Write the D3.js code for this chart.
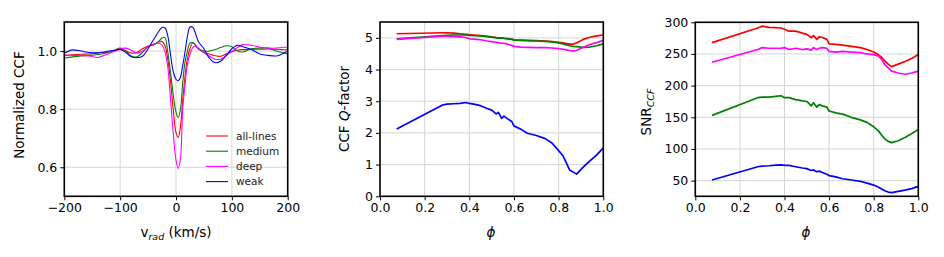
<!DOCTYPE html>
<html>
<head>
<meta charset="utf-8">
<script src="https://cdn.jsdelivr.net/npm/d3@7"></script>
<style>
  body { margin: 0; background: #fff; }
  svg { font-family: "DejaVu Sans", sans-serif; }
</style>
</head>
<body>
<svg id="fig" width="944" height="257"></svg>
<script>

//////////////////// DATA ////////////////////

// panel 1: normalized CCF profiles
var vrad = [-200,-185,-170,-155,-140,-125,-110,-100,-90,-80,-70,-60,-50,-40,-30,-25,-20,-15,-10,-5,0,4,8,12,16,20,25,30,35,40,50,60,70,80,90,100,110,120,135,150,165,180,190,200];

var ccfAll = [0.984,0.987,0.989,0.99,0.993,0.996,1.0,1.005,1.0,0.993,0.995,1.008,1.017,1.022,1.032,1.033,1.02,0.975,0.90,0.80,0.72,0.703,0.74,0.83,0.91,0.97,1.008,1.028,1.02,1.008,0.995,0.99,0.984,0.982,0.99,0.998,1.003,1.005,1.006,1.006,1.007,1.006,1.005,1.004];
var ccfMedium = [0.976,0.98,0.983,0.985,0.988,0.993,1.003,1.01,1.0,0.983,0.98,0.995,1.015,1.022,1.035,1.045,1.047,1.0,0.93,0.85,0.79,0.771,0.80,0.89,0.96,0.995,1.027,1.03,1.02,1.008,1.0,1.0,1.005,1.012,1.018,1.015,1.0,0.997,1.008,1.01,1.01,1.0,0.995,0.99];
var ccfDeep = [0.987,0.985,0.985,0.983,0.978,0.988,1.0,1.008,1.01,1.003,0.993,1.0,1.015,1.024,1.027,1.02,1.0,0.95,0.84,0.72,0.625,0.596,0.63,0.80,0.88,0.95,0.99,1.012,1.017,1.01,0.995,0.982,0.972,0.972,0.985,0.998,1.012,1.022,1.02,1.013,1.01,1.01,1.013,1.013];
var ccfWeak = [0.993,1.004,1.0,0.995,0.994,0.998,1.003,1.006,0.995,0.98,0.977,0.982,1.008,1.04,1.07,1.081,1.08,1.055,0.99,0.93,0.903,0.898,0.91,0.95,0.995,1.045,1.083,1.082,1.06,1.033,1.008,0.975,0.96,0.965,0.985,1.008,1.02,1.015,1.005,0.99,0.985,0.983,0.99,1.0];

// panels 2 and 3: phase grid
var phase = [0.075,0.28,0.30,0.33,0.36,0.385,0.40,0.42,0.45,0.48,0.50,0.52,0.53,0.545,0.555,0.57,0.59,0.60,0.63,0.66,0.70,0.74,0.77,0.80,0.82,0.835,0.85,0.865,0.88,0.91,0.94,0.97,1.0];

// CCF Q-factor
var qAll = [5.13,5.16,5.16,5.15,5.13,5.11,5.10,5.09,5.07,5.05,5.03,5.01,5.0,5.0,4.99,4.98,4.96,4.94,4.93,4.92,4.91,4.9,4.88,4.86,4.84,4.82,4.8,4.8,4.84,4.95,5.02,5.06,5.09];
var qMedium = [4.97,5.07,5.08,5.09,5.09,5.09,5.08,5.07,5.06,5.04,5.02,5.0,4.99,5.0,4.98,4.97,4.95,4.93,4.92,4.91,4.9,4.89,4.87,4.84,4.81,4.78,4.75,4.73,4.72,4.7,4.71,4.75,4.81];
var qDeep = [4.95,5.05,5.05,5.04,5.03,5.01,4.97,4.96,4.94,4.9,4.88,4.86,4.85,4.83,4.83,4.8,4.76,4.73,4.71,4.7,4.69,4.69,4.68,4.66,4.64,4.62,4.6,4.59,4.6,4.7,4.79,4.85,4.92];
var qWeak = [2.12,2.88,2.91,2.92,2.93,2.96,2.93,2.91,2.86,2.77,2.72,2.60,2.65,2.46,2.53,2.45,2.36,2.22,2.12,1.99,1.92,1.82,1.68,1.44,1.27,1.05,0.82,0.77,0.70,0.92,1.12,1.3,1.53];

// SNR of the CCF
var snrAll = [268,291,294,292,291.5,291,289,286,286,283,281,276,279,273,277,276,273,266,265,264,262,260,257,253,249,245,239,234,230,234,238,243,249];
var snrMedium = [153,181,182,182,183,184,181,181,178,176,175,168,173,166,170,168,166,160,157,155,150,146,142,135,129,122,116,112,110,113,118,124,131];
var snrDeep = [237,257,260,259,259,259,260,257,259,257,258,256,260,257,259,260,259,254,253,254,253,252,250,249,247,242,233,228,223,220,218,220,223];
var snrWeak = [51,72,73,73.5,74.5,75,74,74,72,70,69,66,67,64,65,63,60,58,56,53,51,49,46,43,40,37,34,32,31,33,35,37.5,41];

var seriesNames = ["all-lines", "medium", "deep", "weak"];
var seriesColors = ["#ff0000", "#008000", "#ff00ff", "#0000ff"];

var phiTicks = [0, 0.2, 0.4, 0.6, 0.8, 1.0];

//////////////////// FIGURE ////////////////////

var svg = d3.select("#fig");
var minus = s => s.replace("-", "\u2212");

function makePanel(opt) {

    var x = d3.scaleLinear().domain(opt.xDomain).range([opt.left, opt.right]);
    var y = d3.scaleLinear().domain(opt.yDomain).range([opt.bottom, opt.top]);

    var g = svg.append("g").attr("class", opt.id);

    //grid
    g.append("g").selectAll("line")
        .data(opt.xTicks)
        .enter()
        .append("line")
            .attr("x1", d => x(d)).attr("x2", d => x(d))
            .attr("y1", opt.top).attr("y2", opt.bottom)
            .style("stroke", "#d4d4d4").style("stroke-width", 1);

    g.append("g").selectAll("line")
        .data(opt.yTicks)
        .enter()
        .append("line")
            .attr("x1", opt.left).attr("x2", opt.right)
            .attr("y1", d => y(d)).attr("y2", d => y(d))
            .style("stroke", "#d4d4d4").style("stroke-width", 1);

    //clip
    g.append("clipPath").attr("id", "clip-" + opt.id)
        .append("rect")
            .attr("x", opt.left).attr("y", opt.top)
            .attr("width", opt.right - opt.left).attr("height", opt.bottom - opt.top);

    var line = d3.line()
        .x(d => x(d[0]))
        .y(d => y(d[1]))
        .curve(opt.curve);

    g.append("g").attr("clip-path", "url(#clip-" + opt.id + ")")
        .selectAll("path")
        .data(opt.series)
        .enter()
        .append("path")
            .attr("d", (d, i) => line(d3.zip(opt.xs, d)))
            .attr("fill", "none")
            .attr("stroke", (d, i) => seriesColors[i])
            .attr("stroke-width", opt.lw)
            .attr("stroke-linejoin", "round");

    //axes
    var xAxis = g.append("g")
        .attr("transform", "translate(0," + opt.bottom + ")")
        .call(d3.axisBottom(x).tickValues(opt.xTicks).tickFormat(opt.xFormat).tickSizeOuter(0).tickSize(4).tickPadding(3));

    var yAxis = g.append("g")
        .attr("transform", "translate(" + opt.left + ",0)")
        .call(d3.axisLeft(y).tickValues(opt.yTicks).tickFormat(opt.yFormat).tickSizeOuter(0).tickSize(4).tickPadding(3));

    [xAxis, yAxis].forEach(a => {
        a.select(".domain").remove();
        a.selectAll("line").style("stroke", "#000").style("stroke-width", 1);
        a.selectAll("text").style("font-family", "DejaVu Sans").style("font-size", "12.5px").style("fill", "#000");
    });

    //frame
    g.append("rect")
        .attr("x", opt.left).attr("y", opt.top)
        .attr("width", opt.right - opt.left).attr("height", opt.bottom - opt.top)
        .attr("fill", "none").attr("stroke", "#000").attr("stroke-width", 1.6);

    return {g: g, x: x, y: y};
}

////////////////// PANEL 1 //////////////////
var p1 = makePanel({
    id: "p1", left: 64.3, right: 287.7, top: 22, bottom: 196.3,
    xDomain: [-200, 200], yDomain: [0.5, 1.1],
    xTicks: [-200, -100, 0, 100, 200], yTicks: [0.6, 0.8, 1.0],
    xFormat: d => minus(d3.format("d")(d)), yFormat: d3.format(".1f"),
    xs: vrad, series: [ccfAll, ccfMedium, ccfDeep, ccfWeak],
    curve: d3.curveCatmullRom.alpha(0.5), lw: 1.1
});

//legend
var legend = p1.g.append("g").attr("class", "legend");
seriesNames.forEach((name, i) => {
    var ly = 136 + i * 15.2;
    legend.append("line")
        .attr("x1", 206).attr("x2", 228).attr("y1", ly).attr("y2", ly)
        .attr("stroke", seriesColors[i]).attr("stroke-width", 1.1);
    legend.append("text")
        .attr("x", 236).attr("y", ly).attr("dy", "0.35em")
        .text(name)
        .style("font-size", "10.5px").style("fill", "#222");
});

//labels
var lab1 = svg.append("text")
    .attr("transform", "translate(24,105) rotate(-90)")
    .attr("text-anchor", "middle")
    .style("font-size", "13.5px");
lab1.text("Normalized CCF");

var xl1 = svg.append("text").attr("x", 176).attr("y", 237).attr("text-anchor", "middle").style("font-size", "13.5px");
xl1.append("tspan").text("v");
xl1.append("tspan").attr("dy", 3).style("font-size", "9.5px").style("font-style", "italic").text("rad");
xl1.append("tspan").attr("dy", -3).text(" (km/s)");

////////////////// PANEL 2 //////////////////
var p2 = makePanel({
    id: "p2", left: 380, right: 603.3, top: 22, bottom: 196.3,
    xDomain: [0, 1], yDomain: [0, 5.5],
    xTicks: phiTicks, yTicks: [0, 1, 2, 3, 4, 5],
    xFormat: d3.format(".1f"), yFormat: d3.format("d"),
    xs: phase, series: [qAll, qMedium, qDeep, qWeak],
    curve: d3.curveLinear, lw: 1.7
});

var lab2 = svg.append("text")
    .attr("transform", "translate(349,109) rotate(-90)")
    .attr("text-anchor", "middle")
    .style("font-size", "13.5px");
lab2.append("tspan").text("CCF ");
lab2.append("tspan").style("font-style", "italic").text("Q");
lab2.append("tspan").text("-factor");

svg.append("text").attr("x", 491).attr("y", 237).attr("text-anchor", "middle")
    .style("font-size", "13.5px").style("font-style", "italic").text("\u03d5");

////////////////// PANEL 3 //////////////////
var p3 = makePanel({
    id: "p3", left: 695.3, right: 918.3, top: 22.3, bottom: 196.3,
    xDomain: [0, 1], yDomain: [25.3, 300],
    xTicks: phiTicks, yTicks: [50, 100, 150, 200, 250, 300],
    xFormat: d3.format(".1f"), yFormat: d3.format("d"),
    xs: phase, series: [snrAll, snrMedium, snrDeep, snrWeak],
    curve: d3.curveLinear, lw: 1.7
});

var lab3 = svg.append("text")
    .attr("transform", "translate(651,112) rotate(-90)")
    .attr("text-anchor", "middle")
    .style("font-size", "13.5px");
lab3.append("tspan").text("SNR");
lab3.append("tspan").attr("dy", 3).style("font-size", "9.5px").style("font-style", "italic").text("CCF");

svg.append("text").attr("x", 806).attr("y", 237).attr("text-anchor", "middle")
    .style("font-size", "13.5px").style("font-style", "italic").text("\u03d5");

</script>
</body>
</html>
